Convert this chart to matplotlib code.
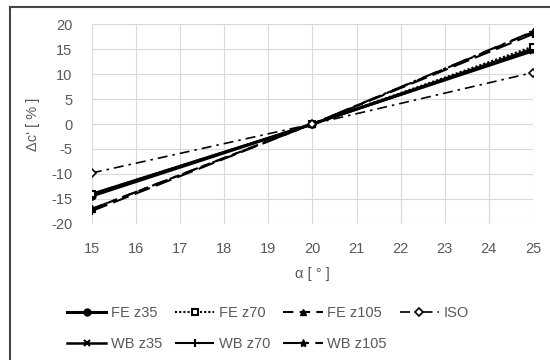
import matplotlib.pyplot as plt
from matplotlib.lines import Line2D

plt.rcParams['font.family'] = ['Liberation Sans', 'DejaVu Sans']
plt.rcParams['axes.unicode_minus'] = False

# angle of attack and change in coefficient for each model
alpha = [15, 20, 25]
fe_z35 = [-14.4, 0, 15.0]
fe_z70 = [-14.0, 0, 15.5]
fe_z105 = [-17.0, 0, 18.4]
iso = [-9.8, 0, 10.3]
wb_z35 = [-14.0, 0, 14.6]
wb_z70 = [-17.4, 0, 18.0]
wb_z105 = [-17.0, 0, 18.5]

x_ticks = list(range(15, 26))
y_ticks = list(range(-20, 21, 5))

text_color = '#595959'
grid_color = '#d9d9d9'

fig = plt.figure(figsize=(5.5, 3.6), dpi=100)
ax = fig.add_axes([0.167, 0.378, 0.802, 0.555])

series = [
    ('FE z35', fe_z35, dict(ls='-', lw=2.2, marker='o', ms=5, mfc='black')),
    ('WB z35', wb_z35, dict(ls='-', lw=1.8, marker='x', ms=5, mew=1.5)),
    ('FE z70', fe_z70, dict(ls=(0, (1, 1)), lw=1.5, marker='s', ms=5, mfc='white', mew=1.5)),
    ('WB z70', wb_z70, dict(ls=(0, (8, 3)), lw=1.5, marker='+', ms=6, mew=1.5)),
    ('FE z105', fe_z105, dict(ls=(0, (5, 3)), lw=1.5, marker='^', ms=5, mfc='black')),
    ('WB z105', wb_z105, dict(ls=(0, (8, 3, 1.5, 3)), lw=1.5, marker='*', ms=6)),
    ('ISO', iso, dict(ls=(0, (6, 3, 1.5, 3)), lw=1.2, marker='D', ms=4, mfc='white', mew=1.2)),
]

for name, vals, style in series:
    ax.plot(alpha, vals, color='black', label=name, **style)

ax.set_xlim(15, 25)
ax.set_ylim(-20, 20)
ax.set_xticks(x_ticks)
ax.set_yticks(y_ticks)
ax.grid(True, color=grid_color, lw=0.8)
ax.set_axisbelow(True)
for s in ax.spines.values():
    s.set_visible(False)
ax.tick_params(length=0, labelsize=10.5, colors=text_color)
ax.tick_params(axis='x', pad=13)
ax.tick_params(axis='y', pad=14)

ax.set_xlabel('α [ ° ]', fontsize=10.5, color=text_color, labelpad=8)
ax.set_ylabel("Δc' [ % ]", fontsize=10.5, color=text_color, labelpad=8)

fig.legend(loc='center', bbox_to_anchor=(0.487, 0.088), ncol=4, frameon=False,
           fontsize=10.5, labelcolor=text_color, handlelength=2.7,
           columnspacing=0.9, handletextpad=0.3, labelspacing=1.15)

# chart border: top and left edges
fig.add_artist(Line2D([10 / 550, 1], [1 - 7 / 360] * 2, transform=fig.transFigure,
                      color='#444444', lw=1.5))
fig.add_artist(Line2D([10 / 550] * 2, [0, 1 - 7 / 360], transform=fig.transFigure,
                      color='#444444', lw=1.5))

fig.savefig('out.png', dpi=100)
